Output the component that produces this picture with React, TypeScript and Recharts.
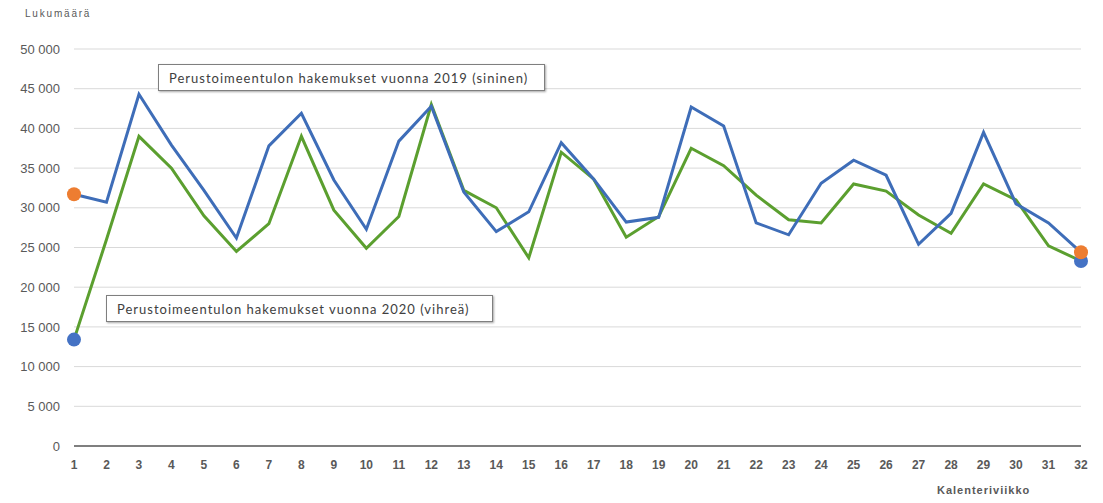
import { LineChart, Line, XAxis, YAxis, CartesianGrid } from "recharts";

// Kalenteriviikot 1-32
const weeks = [
  1, 2, 3, 4, 5, 6, 7, 8, 9, 10, 11, 12, 13, 14, 15, 16,
  17, 18, 19, 20, 21, 22, 23, 24, 25, 26, 27, 28, 29, 30, 31, 32,
];

// Perustoimeentulon hakemukset 2019 (sininen)
const hakemukset2019 = [
  31700, 30700, 44300, 37900, 32200, 26200, 37800, 41900, 33500, 27300, 38400, 42800,
  32000, 27000, 29500, 38200, 33600, 28200, 28800, 42700, 40300, 28100, 26600, 33100,
  36000, 34100, 25400, 29300, 39500, 30500, 28100, 24400,
];

// Perustoimeentulon hakemukset 2020 (vihreä)
const hakemukset2020 = [
  13400, 26000, 39000, 35000, 29000, 24500, 28000, 39000, 29700, 24900, 28900, 43000,
  32200, 30000, 23700, 37000, 33600, 26300, 28900, 37500, 35300, 31600, 28500, 28100,
  33000, 32100, 29100, 26800, 33000, 31000, 25200, 23300,
];

const yTicks = [0, 5000, 10000, 15000, 20000, 25000, 30000, 35000, 40000, 45000, 50000];

const chartData = weeks.map((w, i) => ({
  week: w,
  v2019: hakemukset2019[i],
  v2020: hakemukset2020[i],
}));

const formatThousands = (v: number) =>
  v === 0 ? "0" : `${Math.floor(v / 1000)} ${String(v % 1000).padStart(3, "0")}`;

// only the first and last point get a marker
const endDot = (color: string) => (props: any) => {
  const { cx, cy, index } = props;
  if (index !== 0 && index !== weeks.length - 1) return <g key={`d-${index}`} />;
  return <circle key={`d-${index}`} cx={cx} cy={cy} r={7} fill={color} stroke="none" />;
};

const boxStyle: React.CSSProperties = {
  position: "absolute",
  height: 27,
  width: 387,
  border: "1px solid #7f7f7f",
  boxShadow: "1px 1px 2px rgba(0,0,0,0.35)",
  background: "#fff",
  fontFamily: "Lato, 'Open Sans', sans-serif",
  fontSize: 13,
  letterSpacing: 1,
  color: "#404040",
  lineHeight: "27px",
  paddingLeft: 10,
  boxSizing: "border-box",
  whiteSpace: "nowrap",
};

const App = () => {
  return (
    <div style={{ position: "absolute", left: 0, top: 0, width: 1103, height: 503, background: "#fff" }}>
      <LineChart
        width={1103}
        height={503}
        data={chartData}
        margin={{ top: 49, right: 22, bottom: 0, left: 0 }}
      >
        <CartesianGrid vertical={false} stroke="#d9d9d9" />
        <XAxis
          dataKey="week"
          type="number"
          domain={[1, 32]}
          ticks={weeks}
          interval={0}
          axisLine={{ stroke: "#7f7f7f", strokeWidth: 2 }}
          tickLine={false}
          tickMargin={8}
          tick={{ fill: "#595959", fontSize: 12, fontWeight: 700, fontFamily: "Liberation Sans, Arial, sans-serif" }}
          height={57}
        />
        <YAxis
          domain={[0, 50000]}
          ticks={yTicks}
          width={74}
          axisLine={false}
          tickLine={false}
          tickSize={0}
          tickMargin={14}
          tickFormatter={formatThousands}
          tick={{ fill: "#595959", fontSize: 13, fontFamily: "Liberation Sans, Arial, sans-serif" }}
        />
        <Line
          dataKey="v2020"
          stroke="#5b9f2f"
          strokeWidth={3}
          dot={endDot("#4472c4")}
          activeDot={false}
          isAnimationActive={false}
        />
        <Line
          dataKey="v2019"
          stroke="#3e6db8"
          strokeWidth={3}
          dot={endDot("#ed7d31")}
          activeDot={false}
          isAnimationActive={false}
        />
      </LineChart>
      <div
        style={{
          position: "absolute",
          left: 25,
          top: 8,
          fontFamily: "Liberation Sans, Arial, sans-serif",
          fontSize: 10,
          letterSpacing: 1.8,
          color: "#595959",
        }}
      >
        Lukumäärä
      </div>
      <div
        style={{
          position: "absolute",
          left: 937,
          top: 484,
          fontFamily: "Liberation Sans, Arial, sans-serif",
          fontSize: 11,
          fontWeight: 700,
          letterSpacing: 1,
          color: "#595959",
        }}
      >
        Kalenteriviikko
      </div>
      <div style={{ ...boxStyle, left: 158, top: 64 }}>
        Perustoimeentulon hakemukset vuonna 2019 (sininen)
      </div>
      <div style={{ ...boxStyle, left: 106, top: 295 }}>
        Perustoimeentulon hakemukset vuonna 2020 (vihreä)
      </div>
    </div>
  );
};

export default App;
